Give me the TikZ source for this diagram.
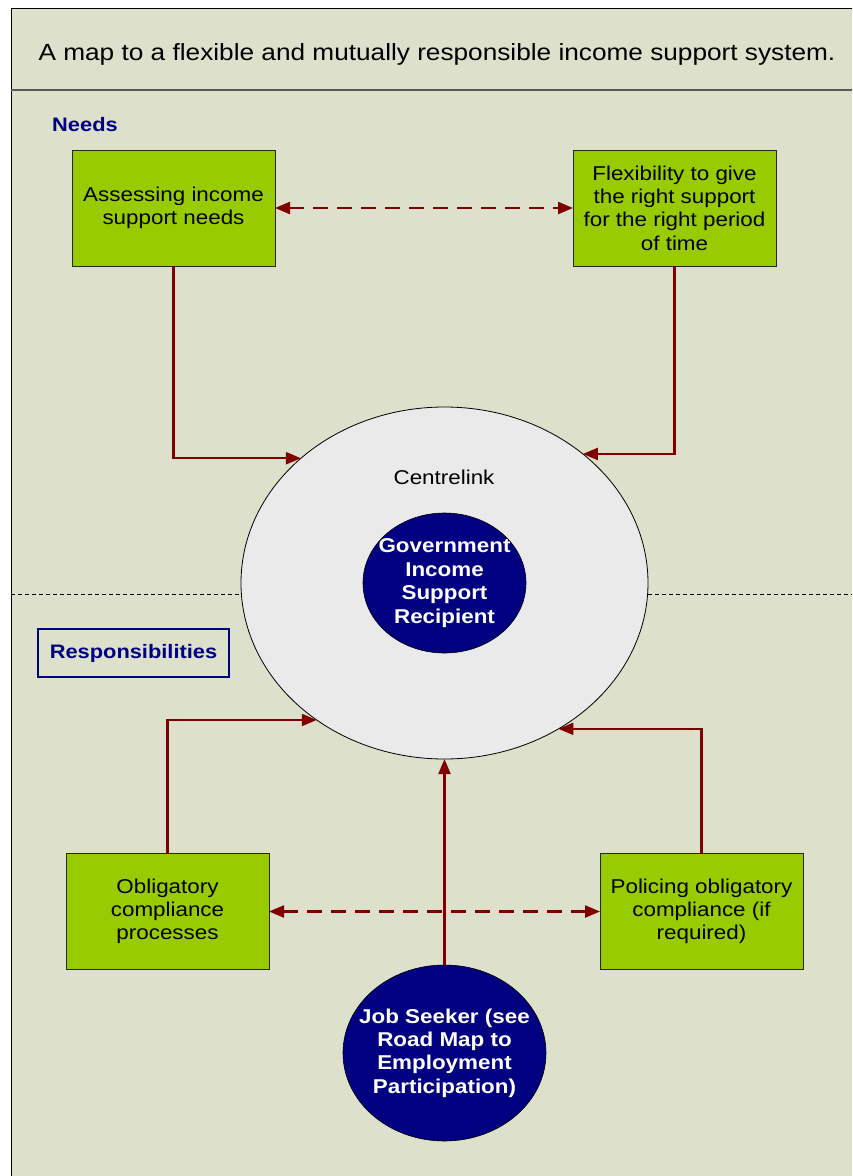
\documentclass[tikz,border=0pt]{standalone}
\usepackage{fontspec}
\setmainfont[FakeStretch=1.12]{Liberation Sans}
\usetikzlibrary{shapes.geometric,arrows.meta}
\definecolor{bgc}{RGB}{221,224,202}
\definecolor{boxgreen}{RGB}{153,204,0}
\definecolor{navyc}{RGB}{0,0,128}
\definecolor{darkred}{RGB}{128,0,0}
\definecolor{centc}{RGB}{234,234,234}
\definecolor{linegray}{RGB}{90,90,90}
\begin{document}
\begin{tikzpicture}[x=1pt,y=-1pt,
  greenbox/.style={draw=black!85, line width=0.8pt, fill=boxgreen, minimum width=203pt, minimum height=116pt, inner sep=0pt, outer sep=0pt, align=center, font=\fontsize{20}{23.3}\selectfont},
  navyell/.style={ellipse, draw=black, line width=0.6pt, fill=navyc, inner sep=0pt, outer sep=0pt},
  whitetext/.style={text=white, align=center, font=\fontsize{20}{23.4}\selectfont\bfseries},
  arr/.style={draw=darkred, line width=2.2pt, -{Triangle[length=15pt,width=12pt]}},
  darr/.style={draw=darkred, line width=2.2pt, dash pattern=on 15pt off 9pt, {Triangle[length=15pt,width=12pt]}-{Triangle[length=15pt,width=12pt]}},
  heading/.style={text=navyc, font=\fontsize{19.5}{22}\selectfont\bfseries, inner sep=0pt}
]
\useasboundingbox (0,0) rectangle (852,1176);
% background
\fill[bgc] (11,8) rectangle (852,1176);
\draw[black, line width=1pt] (11,1176) -- (11,8) -- (852,8);
\draw[linegray, line width=1.5pt] (11,90) -- (852,90);
\node[font=\fontsize{23.4}{27}\selectfont, inner sep=0pt] (title) at (437,54) {A map to a flexible and mutually responsible income support system.};
% dashed divider
\coordinate (divL) at (11,594);
\coordinate (divR) at (852,594);
\draw[black, line width=0.6pt, dash pattern=on 4pt off 3pt] (divL) -- (divR);
% headings
\node[heading, anchor=west] (needs) at (52,125) {Needs};
\node[heading, draw=navyc, line width=1.2pt, minimum width=191pt, minimum height=48pt] (resp) at (133.5,653) {Responsibilities};
% boxes
\node[greenbox] (b1) at (173.5,208) {Assessing income\\support needs};
\node[greenbox] (b2) at (674.5,208) {Flexibility to give\\the right support\\for the right period\\of time};
\node[greenbox] (b3) at (167.5,911.5) {Obligatory\\compliance\\processes};
\node[greenbox] (b4) at (701.5,911.5) {Policing obligatory\\compliance (if\\required)};
% Centrelink
\node[ellipse, draw=black, line width=0.8pt, fill=centc, minimum width=407pt, minimum height=352pt, inner sep=0pt, outer sep=0pt] (cl) at (444.5,583) {};
\node[font=\fontsize{20}{23}\selectfont, inner sep=0pt] (cltext) at (444,477) {Centrelink};
\node[navyell, minimum width=163pt, minimum height=140pt,
  label={[whitetext, name=govtext]center:Government\\Income\\Support\\Recipient}] (gov) at (444.5,583) {};
% Job seeker
\node[navyell, minimum width=203pt, minimum height=176pt,
  label={[whitetext, name=jobtext]center:Job Seeker (see\\Road Map to\\Employment\\Participation)}] (job) at (444.5,1053) {};
% connectors
\draw[arr] (b1.south) |- (cl.139.8);
\draw[arr] (b2.south) |- (cl.43.9);
\draw[arr] (b3.north) |- (cl.227.5);
\draw[arr] (b4.north) |- (cl.308.5);
\draw[arr] (job.north) -- (cl.south);
\draw[darr] (b1.east) -- (b2.west);
\draw[darr] (b3.east) -- (b4.west);
\end{tikzpicture}
\end{document}
